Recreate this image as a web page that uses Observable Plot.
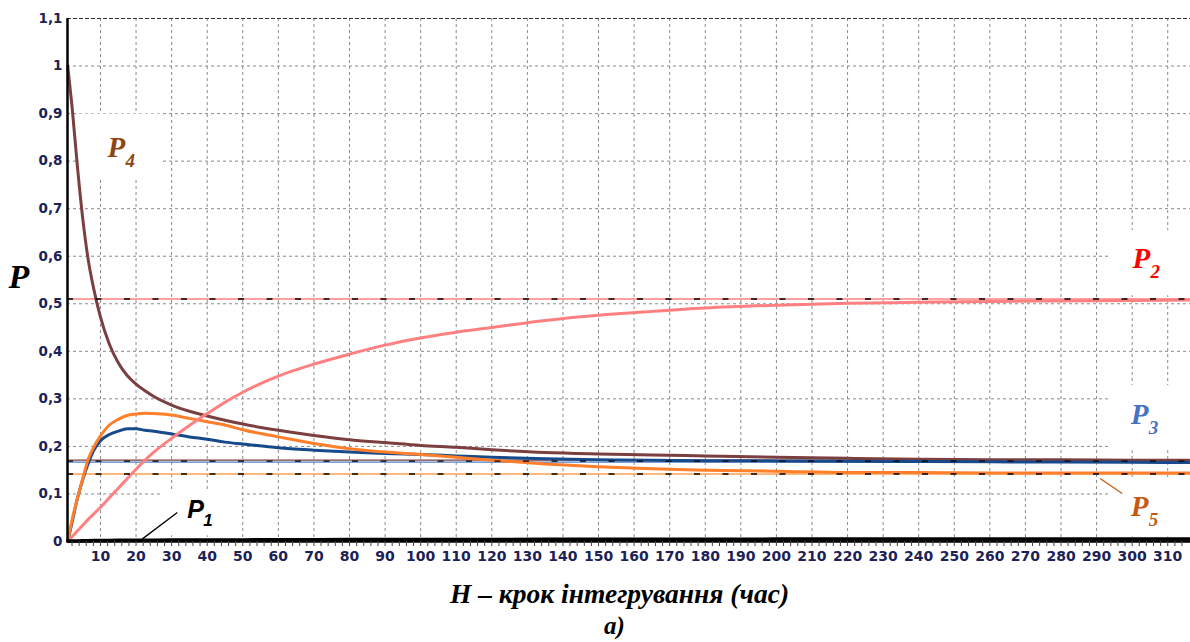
<!DOCTYPE html>
<html>
<head>
<meta charset="utf-8">
<script src="https://cdn.jsdelivr.net/npm/d3@7"></script>
<script src="https://cdn.jsdelivr.net/npm/@observablehq/plot@0.6"></script>
<style>
  body { margin: 0; background: #fff; }
  #chart svg { display: block; }
</style>
</head>
<body>
<div id="chart"></div>
<script>
// ---- data ----
const steps = [0.8, 2, 3.5, 5, 6.5, 8, 10, 12.5, 15, 17.5, 20, 22.5, 25, 30, 35, 40, 45, 50, 60, 70, 80, 90, 100, 110, 120, 135, 150, 165, 180, 200, 220, 240, 260, 280, 300, 316];
const p1 = [0.001, 0.001, 0.0012, 0.0015, 0.0017, 0.002, 0.002, 0.0022, 0.0024, 0.0025, 0.0026, 0.0027, 0.0028, 0.003, 0.003, 0.0032, 0.0033, 0.0034, 0.0036, 0.0038, 0.004, 0.004, 0.0042, 0.0043, 0.0044, 0.0045, 0.0046, 0.0047, 0.0048, 0.005, 0.005, 0.005, 0.005, 0.0052, 0.0054, 0.0055];
const p2 = [0.0, 0.01, 0.022, 0.034, 0.046, 0.057, 0.072, 0.092, 0.112, 0.132, 0.152, 0.171, 0.188, 0.217, 0.244, 0.269, 0.293, 0.314, 0.348, 0.373, 0.394, 0.413, 0.428, 0.440, 0.45, 0.465, 0.476, 0.484, 0.491, 0.497, 0.501, 0.503, 0.505, 0.506, 0.507, 0.508];
const p3 = [0.0, 0.04, 0.09, 0.13, 0.163, 0.19, 0.212, 0.225, 0.232, 0.237, 0.237, 0.234, 0.232, 0.226, 0.22, 0.215, 0.209, 0.205, 0.197, 0.192, 0.188, 0.185, 0.183, 0.18, 0.177, 0.174, 0.172, 0.171, 0.17, 0.1695, 0.169, 0.168, 0.1675, 0.167, 0.1665, 0.166];
const p4 = [1.0, 0.915, 0.79, 0.68, 0.595, 0.535, 0.472, 0.415, 0.376, 0.349, 0.331, 0.317, 0.305, 0.287, 0.274, 0.264, 0.255, 0.247, 0.234, 0.223, 0.214, 0.208, 0.202, 0.198, 0.193, 0.187, 0.184, 0.182, 0.18, 0.177, 0.175, 0.173, 0.172, 0.172, 0.171, 0.171];
const p5 = [0.0, 0.045, 0.09, 0.132, 0.172, 0.197, 0.222, 0.245, 0.257, 0.265, 0.268, 0.27, 0.269, 0.266, 0.259, 0.252, 0.245, 0.235, 0.22, 0.206, 0.195, 0.188, 0.183, 0.177, 0.171, 0.163, 0.157, 0.153, 0.15, 0.148, 0.145, 0.145, 0.144, 0.144, 0.144, 0.144];

// steady-state levels
const steadyValues = [0.51, 0.171, 0.167, 0.142];
const steadyDashed = [0.51, 0.169, 0.142];

// ticks
const xTicks = [10, 20, 30, 40, 50, 60, 70, 80, 90, 100, 110, 120, 130, 140, 150, 160, 170, 180, 190, 200, 210, 220, 230, 240, 250, 260, 270, 280, 290, 300, 310];
const xMinorTicks = d3.range(2, 316, 2);
const yTicks = [0, 0.1, 0.2, 0.3, 0.4, 0.5, 0.6, 0.7, 0.8, 0.9, 1.0, 1.1];
const yTickLabels = ["0", "0,1", "0,2", "0,3", "0,4", "0,5", "0,6", "0,7", "0,8", "0,9", "1", "1,1"];

// labels
const labelNames = ["P", "P", "P", "P", "P"];
const labelSubs = ["4", "2", "3", "5", "1"];
const labelX = [12.0, 300.1, 299.6, 299.6, 34.4];
const labelY = [0.809, 0.576, 0.248, 0.054, 0.050];
const labelColors = ["#8c4513", "#ff0000", "#4472c4", "#c55a11", "#000000"];
const labelFonts = ["Liberation Serif", "Liberation Serif", "Liberation Serif", "Liberation Serif", "Liberation Sans"];

// white boxes behind labels (x1,x2,y1,y2)
const boxes = [
  {x1: 3.5, x2: 27.7, y1: 0.760, y2: 0.899},
  {x1: 294, x2: 316.4, y1: 0.517, y2: 0.654},
  {x1: 294, x2: 316.4, y1: 0.191, y2: 0.328},
  {x1: 294, x2: 316.4, y1: 0.0097, y2: 0.132},
  {x1: 27.7, x2: 49.4, y1: 0.012, y2: 0.104}
];
// leader lines
const leaders = [
  {x1: 21.7, y1: 0.005, x2: 31.6, y2: 0.061, c: "#000"},
  {x1: 291.0, y1: 0.1325, x2: 297.2, y2: 0.101, c: "#c55a11"}
];

const labelData = labelNames.map((n, i) => ({n, s: labelSubs[i], x: labelX[i], y: labelY[i], c: labelColors[i], f: labelFonts[i]}));
const serifLabels = labelData.filter(d => d.f === "Liberation Serif");
const sansLabels = labelData.filter(d => d.f === "Liberation Sans");

const navy = "#1c2256";

const chart = Plot.plot({
  width: 1190,
  height: 642,
  marginLeft: 67,
  marginRight: 0,
  marginTop: 18,
  marginBottom: 101,
  x: {domain: [0.73, 316.4]},
  y: {domain: [0, 1.1]},
  style: {background: "white", fontFamily: "Liberation Sans", overflow: "visible"},
  marks: [
    // grid
    Plot.ruleX(xTicks, {stroke: "#8a8a8a", strokeDasharray: "3,3", strokeWidth: 1}),
    Plot.ruleY(yTicks.slice(1, 11), {stroke: "#8a8a8a", strokeDasharray: "3,3", strokeWidth: 1}),
    Plot.ruleY([1.1], {stroke: "#333", strokeDasharray: "4,2", strokeWidth: 1.2}),
    // white boxes behind labels
    Plot.rect(boxes, {x1: "x1", x2: "x2", y1: "y1", y2: "y2", fill: "white"}),
    // steady-state thin lines
    Plot.ruleY([steadyValues[0]], {stroke: "#ff8080", strokeWidth: 1.6}),
    Plot.ruleY([steadyValues[1]], {stroke: "#7b3f3f", strokeWidth: 1.2}),
    Plot.ruleY([steadyValues[2]], {stroke: "#4f7fc4", strokeWidth: 1.2}),
    Plot.ruleY([steadyValues[3]], {stroke: "#ffa050", strokeWidth: 1.6}),
    // curves
    Plot.lineY(p4, {x: steps, stroke: "#7b3f3f", strokeWidth: 3, curve: "monotone-x"}),
    Plot.lineY(p3, {x: steps, stroke: "#174a8b", strokeWidth: 3, curve: "monotone-x"}),
    Plot.lineY(p5, {x: steps, stroke: "#ff7f2a", strokeWidth: 3, curve: "monotone-x"}),
    Plot.lineY(p2, {x: steps, stroke: "#ff8080", strokeWidth: 3, curve: "monotone-x"}),
    // dashed black steady markers
    Plot.ruleY(steadyDashed, {stroke: "#000", strokeDasharray: "6,22.5", strokeWidth: 1.3}),
    // P1 and axis lines
    Plot.ruleY([0], {stroke: "#000", strokeWidth: 2.5}),
    Plot.lineY(p1, {x: steps, stroke: "#000", strokeWidth: 3.5}),
    Plot.ruleX([0.73], {stroke: "#000", strokeWidth: 2.5}),
    // axes
    Plot.axisX(xMinorTicks, {tickSize: 5, text: null, stroke: "#444", label: null}),
    Plot.axisX(xTicks, {tickSize: 0, tickPadding: 10, fontSize: 14, fontWeight: "bold", fontFamily: "DejaVu Sans", color: navy, label: null}),
    Plot.axisY(yTicks, {tickSize: 0, tickPadding: 5, fontSize: 13.5, fontWeight: "bold", fontFamily: "DejaVu Sans", color: navy, label: null,
      tickFormat: d => yTickLabels[Math.round(d * 10)]}),
    // leader lines
    Plot.link(leaders, {x1: "x1", y1: "y1", x2: "x2", y2: "y2", stroke: "c", strokeWidth: 1.3}),
    // series labels
    Plot.text(serifLabels, {x: "x", y: "y", text: "n", fill: "c", textAnchor: "start", lineAnchor: "bottom",
      fontFamily: "Liberation Serif", fontWeight: "bold", fontStyle: "italic", fontSize: 29}),
    Plot.text(serifLabels, {x: "x", y: "y", text: "s", fill: "c", textAnchor: "start", lineAnchor: "bottom",
      dx: 18, dy: 10, fontFamily: "Liberation Serif", fontWeight: "bold", fontStyle: "italic", fontSize: 19}),
    Plot.text(sansLabels, {x: "x", y: "y", text: "n", fill: "c", textAnchor: "start", lineAnchor: "bottom",
      fontFamily: "Liberation Sans", fontWeight: "bold", fontStyle: "italic", fontSize: 25}),
    Plot.text(sansLabels, {x: "x", y: "y", text: "s", fill: "c", textAnchor: "start", lineAnchor: "bottom",
      dx: 16, dy: 8, fontFamily: "Liberation Sans", fontWeight: "bold", fontStyle: "italic", fontSize: 17}),
    // axis titles
    Plot.text(["P"], {frameAnchor: "left", textAnchor: "start", lineAnchor: "bottom", dx: -59, dy: 7.5,
      fontFamily: "Liberation Serif", fontWeight: "bold", fontStyle: "italic", fontSize: 34, fill: "#000"}),
    Plot.text(["H – крок інтегрування (час)"], {frameAnchor: "bottom", lineAnchor: "bottom", dx: -9.5, dy: 61,
      fontFamily: "Liberation Serif", fontWeight: "bold", fontStyle: "italic", fontSize: 27.5, fill: "#000"}),
    Plot.text(["а)"], {frameAnchor: "bottom", lineAnchor: "bottom", dx: -14.5, dy: 92,
      fontFamily: "Liberation Serif", fontWeight: "bold", fontStyle: "italic", fontSize: 25, fill: "#000"})
  ]
});
document.getElementById("chart").appendChild(chart);
</script>
</body>
</html>
